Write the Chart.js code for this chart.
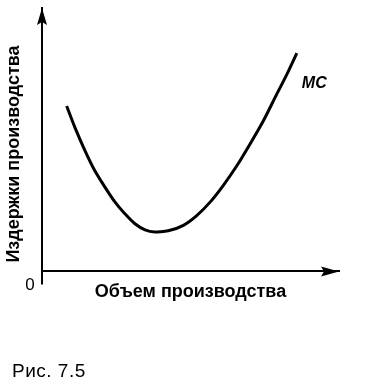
<!DOCTYPE html>
<html>
<head>
<meta charset="utf-8">
<script src="https://cdn.jsdelivr.net/npm/chart.js@4"></script>
<style>
  html, body { margin: 0; padding: 0; background: #fff; }
  #wrap { position: relative; width: 377px; height: 389px; }
</style>
</head>
<body>
<div id="wrap"><canvas id="c" width="377" height="389"></canvas></div>
<script>
// Output volume (x) and marginal cost (y), in relative units 0..100
const volume = [8.3, 11.1, 14.5, 17.8, 21.2, 24.6, 27.9, 31.3, 34.7, 38.0, 42.5, 47.6, 52.1, 56.6, 61.0, 65.6, 70.0, 74.5, 79.0, 82.4, 85.8];
const marginalCost = [62.8, 54.6, 45.8, 38.2, 32.0, 26.3, 21.9, 18.1, 15.8, 15.0, 15.4, 17.5, 21.2, 26.3, 32.6, 40.1, 48.3, 57.1, 67.2, 74.7, 82.9];
const seriesLabel = 'MC';
const xTitle = 'Объем производства';
const yTitle = 'Издержки производства';
const originLabel = '0';
const figureCaption = 'Рис. 7.5';

const points = volume.map((v, i) => ({ x: v, y: marginalCost[i] }));

const decor = {
  id: 'decor',
  afterDraw(chart) {
    const ctx = chart.ctx;
    const ca = chart.chartArea;
    const xs = chart.scales.x, ys = chart.scales.y;
    const x0 = xs.getPixelForValue(0), y0 = ys.getPixelForValue(0);
    ctx.save();
    ctx.fillStyle = '#000';
    ctx.strokeStyle = '#000';
    ctx.lineWidth = 2;
    // y axis extension below origin
    ctx.beginPath();
    ctx.moveTo(x0, y0);
    ctx.lineTo(x0, y0 + 13);
    ctx.stroke();
    // arrow on y axis
    ctx.beginPath();
    ctx.moveTo(x0, ca.top);
    ctx.lineTo(x0 - 5, ca.top + 17);
    ctx.lineTo(x0, ca.top + 14);
    ctx.lineTo(x0 + 5, ca.top + 17);
    ctx.closePath();
    ctx.fill();
    // arrow on x axis
    ctx.beginPath();
    ctx.moveTo(ca.right, y0);
    ctx.lineTo(ca.right - 18, y0 - 5);
    ctx.lineTo(ca.right - 15, y0);
    ctx.lineTo(ca.right - 18, y0 + 5);
    ctx.closePath();
    ctx.fill();
    // origin label
    ctx.font = '17px "Liberation Sans", Arial, sans-serif';
    ctx.textAlign = 'center';
    ctx.textBaseline = 'middle';
    ctx.fillText(originLabel, x0 - 12, y0 + 14);
    // y title
    ctx.save();
    ctx.translate(14, 154);
    ctx.rotate(-Math.PI / 2);
    ctx.font = 'bold 18px "Liberation Sans", Arial, sans-serif';
    ctx.textAlign = 'center';
    ctx.textBaseline = 'middle';
    ctx.fillText(yTitle, 0, 0);
    ctx.restore();
    // series label
    const last = points[points.length - 1];
    ctx.font = 'italic bold 16px "Liberation Sans", Arial, sans-serif';
    ctx.textAlign = 'left';
    ctx.textBaseline = 'middle';
    ctx.fillText(seriesLabel, xs.getPixelForValue(last.x) + 5, ys.getPixelForValue(last.y) + 31);
    // caption
    ctx.font = '19px "Liberation Sans", Arial, sans-serif';
    ctx.textAlign = 'left';
    if ('letterSpacing' in ctx) ctx.letterSpacing = '0.5px';
    ctx.fillText(figureCaption, 12, 372);
    ctx.restore();
  }
};

new Chart(document.getElementById('c'), {
  type: 'scatter',
  data: {
    datasets: [{
      label: seriesLabel,
      data: points,
      showLine: true,
      borderColor: '#000',
      borderWidth: 3,
      pointRadius: 0,
      fill: false,
      tension: 0.3
    }]
  },
  options: {
    responsive: false,
    animation: false,
    devicePixelRatio: 1,
    layout: { padding: { left: 42, right: 38, top: 8, bottom: 82 } },
    plugins: { legend: { display: false }, tooltip: { enabled: false }, title: { display: false } },
    scales: {
      x: {
        type: 'linear', min: 0, max: 100,
        grid: { display: false, drawTicks: false },
        border: { display: true, color: '#000', width: 2 },
        ticks: { display: false },
        title: {
          display: true, text: xTitle, color: '#000',
          font: { family: '"Liberation Sans", Arial, sans-serif', size: 18, weight: 'bold' },
          padding: { top: 10, bottom: 4 }
        }
      },
      y: {
        type: 'linear', min: 0, max: 100,
        grid: { display: false, drawTicks: false },
        border: { display: true, color: '#000', width: 2 },
        ticks: { display: false }
      }
    }
  },
  plugins: [decor]
});
</script>
</body>
</html>
